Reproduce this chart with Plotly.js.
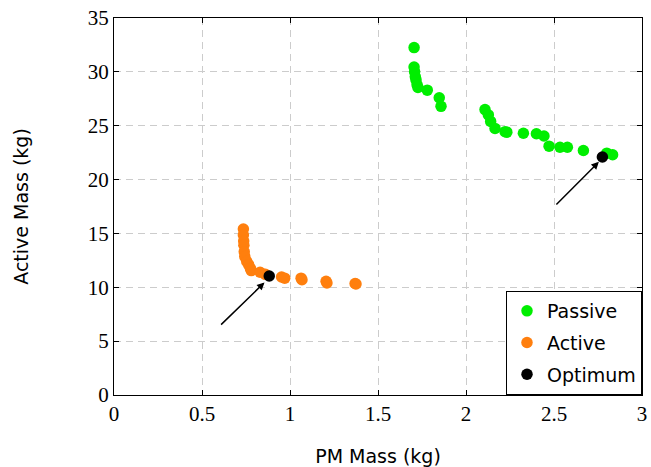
<!DOCTYPE html>
<html>
<head>
<meta charset="utf-8">
<script src="https://cdn.plot.ly/plotly-3.0.1.min.js"></script>
<style>html,body{margin:0;padding:0;background:#fff;}#chart{width:651px;height:467px;}</style>
</head>
<body>
<div id="chart"></div>
<script>
// Passive designs
const passiveX = [1.705, 1.705, 1.708, 1.712, 1.716, 1.722, 1.727, 1.78, 1.848, 1.858,
                  2.108, 2.127, 2.14, 2.165, 2.222, 2.232, 2.326, 2.40, 2.443, 2.472, 2.534, 2.576, 2.667, 2.80, 2.833];
const passiveY = [32.25, 30.45, 30.0, 29.55, 29.25, 28.8, 28.55, 28.3, 27.6, 26.8,
                  26.5, 26.0, 25.4, 24.75, 24.45, 24.4, 24.3, 24.25, 24.05, 23.1, 23.0, 23.0, 22.7, 22.45, 22.3];
// Active designs
const activeX = [0.735, 0.735, 0.737, 0.738, 0.74, 0.743, 0.754, 0.765, 0.775, 0.78, 0.83, 0.86,
                 0.952, 0.97, 1.063, 1.068, 1.205, 1.21, 1.37, 1.375];
const activeY = [15.4, 14.85, 14.3, 13.9, 13.3, 12.85, 12.4, 12.1, 11.75, 11.55, 11.4, 11.2,
                 10.95, 10.85, 10.85, 10.7, 10.55, 10.4, 10.35, 10.3];
// Optimum designs
const optimumX = [0.882, 2.775];
const optimumY = [11.05, 22.1];
// Arrows: tail -> head
const arrowTailX = [0.6, 2.505];
const arrowTailY = [6.4, 17.55];
const arrowHeadX = [0.855, 2.755];
const arrowHeadY = [10.45, 21.65];

const xTicks = [0, 0.5, 1, 1.5, 2, 2.5, 3];
const xTickText = ['0', '0.5', '1', '1.5', '2', '2.5', '3'];
const yTicks = [0, 5, 10, 15, 20, 25, 30, 35];

const mk = (c) => ({color: c, size: 11.5, line: {width: 0}});
const traces = [
  {x: passiveX, y: passiveY, mode: 'markers', type: 'scatter', name: 'Passive', legendgroup: 'a', marker: mk('#00ee00')},
  {x: activeX, y: activeY, mode: 'markers', type: 'scatter', name: 'Active', legendgroup: 'b', marker: mk('#ff7f0e')},
  {x: optimumX, y: optimumY, mode: 'markers', type: 'scatter', name: 'Optimum', legendgroup: 'c', marker: mk('#000000')}
];

const annotations = arrowHeadX.map((hx, i) => ({
  x: hx, y: arrowHeadY[i], ax: arrowTailX[i], ay: arrowTailY[i],
  xref: 'x', yref: 'y', axref: 'x', ayref: 'y',
  showarrow: true, arrowhead: 2, arrowsize: 1, arrowwidth: 1.5, arrowcolor: '#000', text: ''
}));

const tickFont = {family: '"Liberation Serif", "DejaVu Serif", serif', size: 21, color: '#000'};
const titleFont = {family: '"DejaVu Sans", "Noto Sans", sans-serif', size: 19, color: '#000'};

const axisCommon = {
  showline: true, linecolor: '#000', linewidth: 1, mirror: 'allticks',
  ticks: 'inside', ticklen: 5, tickcolor: '#000', tickwidth: 1,
  showgrid: true, gridcolor: '#cccccc', gridwidth: 1, griddash: '7px,5px',
  zeroline: false, tickfont: tickFont, tickmode: 'array'
};

const layout = {
  width: 651, height: 467,
  margin: {l: 114, r: 9, t: 18, b: 72},
  paper_bgcolor: '#fff', plot_bgcolor: '#fff',
  showlegend: true,
  xaxis: Object.assign({}, axisCommon, {
    range: [0, 3], tickvals: xTicks, ticktext: xTickText,
    title: {text: 'PM Mass (kg)', font: titleFont, standoff: 24}
  }),
  yaxis: Object.assign({}, axisCommon, {
    range: [0, 35], tickvals: yTicks,
    title: {text: 'Active Mass (kg)', font: titleFont, standoff: 54}
  }),
  legend: {
    x: 1, y: 0, xanchor: 'right', yanchor: 'bottom',
    bgcolor: '#fff', bordercolor: '#000', borderwidth: 1,
    font: {family: '"DejaVu Sans", "Noto Sans", sans-serif', size: 19, color: '#000'},
    traceorder: 'grouped', tracegroupgap: 4, itemwidth: 30
  },
  annotations: annotations
};

Plotly.newPlot('chart', traces, layout, {displayModeBar: false, staticPlot: true});
</script>
</body>
</html>
